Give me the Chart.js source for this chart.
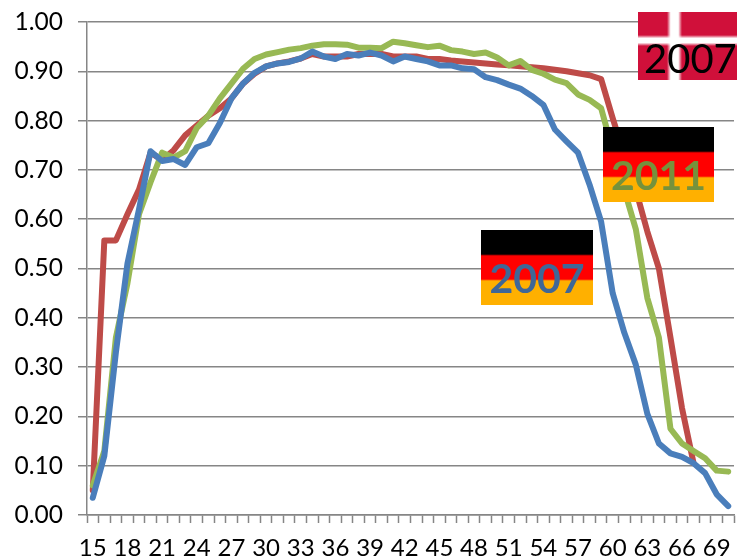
<!DOCTYPE html>
<html>
<head>
<meta charset="utf-8">
<style>html,body{margin:0;padding:0;background:#fff}#w{width:737px;height:560px}</style>
<script src="https://cdn.jsdelivr.net/npm/chart.js@4"></script>
</head>
<body>
<div id="w"><canvas id="c" width="737" height="560"></canvas></div>
<script>
const ages = [15,16,17,18,19,20,21,22,23,24,25,26,27,28,29,30,31,32,33,34,35,36,37,38,39,40,41,42,43,44,45,46,47,48,49,50,51,52,53,54,55,56,57,58,59,60,61,62,63,64,65,66,67,68,69,70];
const germany2007 = [.035,.12,.33,.51,.62,.738,.718,.722,.71,.746,.754,.795,.845,.875,.897,.91,.916,.919,.926,.94,.93,.925,.935,.932,.938,.932,.92,.93,.925,.92,.912,.912,.906,.904,.888,.882,.873,.865,.85,.832,.782,.758,.735,.67,.595,.45,.37,.305,.205,.145,.125,.118,.105,.085,.042,.018];
const germany2011 = [.06,.13,.36,.47,.61,.675,.735,.725,.738,.785,.81,.845,.875,.905,.925,.934,.939,.944,.947,.952,.955,.955,.954,.948,.948,.947,.96,.957,.953,.949,.952,.943,.94,.935,.938,.928,.912,.921,.903,.895,.883,.876,.853,.842,.825,.74,.66,.58,.44,.36,.175,.145,.13,.115,.09,.088];
const denmark2007 = [.05,.557,.557,.61,.66,.735,.72,.74,.77,.79,.81,.825,.845,.875,.895,.91,.916,.92,.926,.935,.93,.93,.93,.935,.935,.935,.93,.93,.93,.925,.925,.922,.92,.918,.916,.914,.912,.91,.908,.906,.903,.9,.896,.892,.884,.805,.73,.66,.575,.5,.36,.217,.105,null,null,null];
const yTicksMax = 1, yTicksStep = 0.1;
const flagLabels = ['2007','2011','2007'];
const FONT = 'Lato, Carlito, sans-serif';
const GRID = '#868686';

function germanFlag(ctx, x, y, w, h, label, color) {
  const g = ctx.createLinearGradient(0, y, 0, y + h);
  const a = 1/3, b = 2/3, e = 0.012;
  g.addColorStop(0, '#000'); g.addColorStop(a - e, '#000');
  g.addColorStop(a + e, '#ff0000'); g.addColorStop(b - e, '#ff0000');
  g.addColorStop(b + e, '#ffb000'); g.addColorStop(1, '#ffb000');
  ctx.fillStyle = g; ctx.fillRect(x, y, w, h);
  ctx.fillStyle = color;
  ctx.font = 'bold 41px ' + FONT;
  ctx.textAlign = 'center'; ctx.textBaseline = 'alphabetic';
  ctx.fillText(label, x + w / 2, y + h - 12);
}
function danishFlag(ctx, x, y, w, h, label) {
  ctx.fillStyle = '#d0103a'; ctx.fillRect(x, y, w, h);
  const v = ctx.createLinearGradient(x + 29, 0, x + 44, 0);
  v.addColorStop(0, 'rgba(255,255,255,0)'); v.addColorStop(.25, '#fff');
  v.addColorStop(.75, '#fff'); v.addColorStop(1, 'rgba(255,255,255,0)');
  ctx.fillStyle = v; ctx.fillRect(x + 29, y, 15, h);
  const s = ctx.createLinearGradient(0, y + 23, 0, y + 34);
  s.addColorStop(0, 'rgba(255,255,255,0)'); s.addColorStop(.3, '#fff');
  s.addColorStop(.7, '#fff'); s.addColorStop(1, 'rgba(255,255,255,0)');
  ctx.fillStyle = s; ctx.fillRect(x, y + 23, w, 11);
  ctx.fillStyle = '#000';
  ctx.font = '40px ' + FONT;
  ctx.textAlign = 'left'; ctx.textBaseline = 'alphabetic';
  ctx.fillText(label, x + 6, y + 61);
}
const flags = {
  id: 'flags',
  afterDraw(chart) {
    const ctx = chart.ctx;
    ctx.save();
    danishFlag(ctx, 638, 12, 99, 68, flagLabels[0]);
    germanFlag(ctx, 603, 127, 111, 75, flagLabels[1], '#76923c');
    germanFlag(ctx, 481, 230, 112, 75, flagLabels[2], '#3f6797');
    ctx.restore();
  }
};
const line = (label, data, color) => ({
  label, data, borderColor: color, borderWidth: 6, pointRadius: 0,
  borderCapStyle: 'round', borderJoinStyle: 'round', tension: 0, fill: false, spanGaps: false
});
new Chart(document.getElementById('c'), {
  type: 'line',
  data: {
    labels: ages,
    datasets: [
      line('Germany 2007', germany2007, '#4a7ebb'),
      line('Germany 2011', germany2011, '#98b954'),
      line('Denmark 2007', denmark2007, '#be4b48')
    ]
  },
  plugins: [flags],
  options: {
    responsive: false, animation: false,
    layout: { padding: { left: 0, top: 22, right: 3, bottom: 0 } },
    plugins: { legend: { display: false }, tooltip: { enabled: false } },
    scales: {
      x: {
        type: 'category', offset: true,
        afterFit(s) { s.height = 45; s.paddingLeft = 0; s.paddingRight = 0; },
        grid: { offset: true, drawOnChartArea: false, drawTicks: true, tickLength: 8, tickColor: GRID, tickWidth: 1.5 },
        border: { color: GRID, width: 1.5 },
        ticks: {
          autoSkip: false, maxRotation: 0, minRotation: 0, padding: 11,
          color: '#000', font: { family: FONT, size: 24 },
          callback(v, i) { return i % 3 === 0 ? this.getLabelForValue(v) : ''; }
        }
      },
      y: {
        min: 0, max: yTicksMax,
        afterFit(s) { s.width = 87; s.paddingTop = 0; s.paddingBottom = 0; },
        grid: { color: GRID, lineWidth: 1.5, tickLength: 9, tickColor: GRID },
        border: { color: GRID, width: 1.5 },
        ticks: {
          stepSize: yTicksStep, padding: 15, color: '#000',
          font: { family: FONT, size: 24.5 },
          callback(v) { return v.toFixed(2); }
        }
      }
    }
  }
});
</script>
</body>
</html>
